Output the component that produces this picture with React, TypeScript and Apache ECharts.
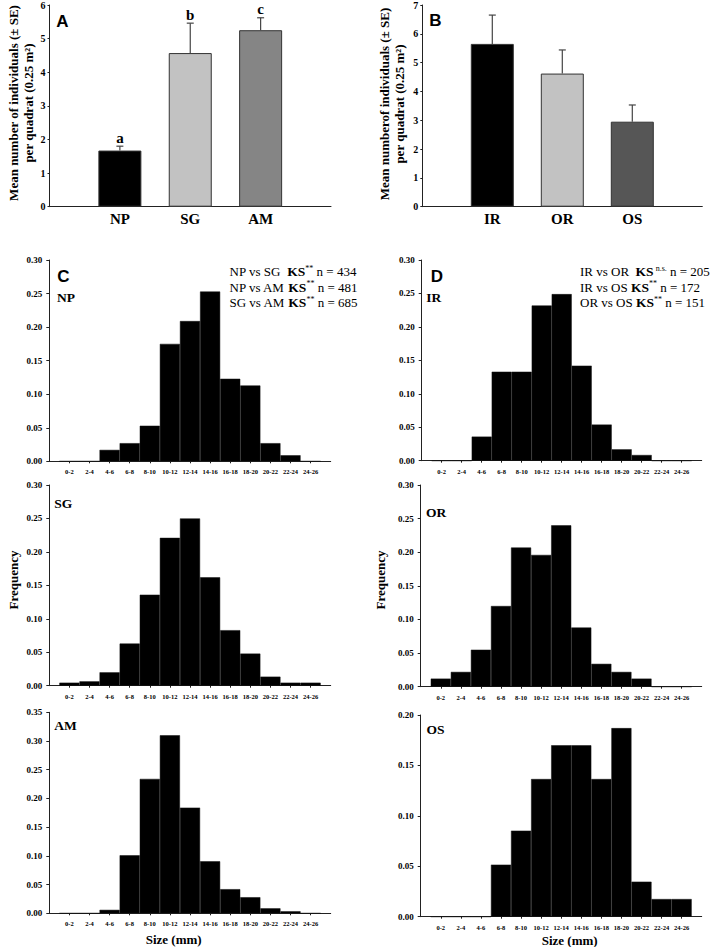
import React, { useEffect, useRef } from "react";
import * as echarts from "echarts";

// ---- Data ----
const siteA = ["NP", "SG", "AM"];
const meanA = [1.67, 4.57, 5.25];
const seA = [0.13, 0.89, 0.37];
const lettersA = ["a", "b", "c"];
const colorsA = ["#000000", "#c2c2c2", "#858585"];

const siteB = ["IR", "OR", "OS"];
const meanB = [5.65, 4.62, 2.95];
const seB = [1.0, 0.82, 0.58];
const colorsB = ["#000000", "#c2c2c2", "#565656"];

const sizeBins = ["0-2", "2-4", "4-6", "6-8", "8-10", "10-12", "12-14", "14-16", "16-18", "18-20", "20-22", "22-24", "24-26"];
const npFreq = [0, 0, 0.017, 0.027, 0.053, 0.175, 0.209, 0.253, 0.123, 0.113, 0.027, 0.009, 0];
const irFreq = [0, 0, 0.036, 0.133, 0.133, 0.232, 0.249, 0.142, 0.054, 0.017, 0.0085, 0, 0];
const sgFreq = [0.0045, 0.0065, 0.02, 0.063, 0.136, 0.221, 0.25, 0.162, 0.083, 0.048, 0.0135, 0.0045, 0.0045];
const orFreq = [0.012, 0.022, 0.055, 0.12, 0.207, 0.196, 0.24, 0.088, 0.034, 0.022, 0.012, 0, 0];
const amFreq = [0, 0, 0.006, 0.101, 0.234, 0.31, 0.184, 0.0905, 0.042, 0.028, 0.0087, 0.0035, 0];
const osFreq = [0, 0, 0, 0.0516, 0.0853, 0.1365, 0.17, 0.17, 0.1365, 0.187, 0.0347, 0.0175, 0.0175];

const SERIF = "Liberation Serif";
const SANS = "Liberation Sans";
const AXIS_COLOR = "#222";

function buildOption() {
  const grids = [
    { left: 49.5, top: 4.7, width: 281.5, height: 202 }, // A
    { left: 422.3, top: 4.7, width: 280, height: 202 }, // B
    { left: 49.3, top: 260, width: 281.4, height: 201.3 }, // C NP
    { left: 421.7, top: 260, width: 280, height: 200.7 }, // D IR
    { left: 49.3, top: 485, width: 281.4, height: 200.7 }, // SG
    { left: 420.7, top: 485, width: 281, height: 201.7 }, // OR
    { left: 49.3, top: 712.3, width: 281.4, height: 201 }, // AM
    { left: 420.7, top: 715, width: 281, height: 201.7 }, // OS
  ];

  const xAxes: any[] = [];
  const yAxes: any[] = [];
  const series: any[] = [];

  // Bar panels A & B
  const barPanels = [
    { sites: siteA, mean: meanA, se: seA, colors: colorsA, max: 6, letters: lettersA },
    { sites: siteB, mean: meanB, se: seB, colors: colorsB, max: 7, letters: null as string[] | null },
  ];
  barPanels.forEach((p, gi) => {
    xAxes.push({
      type: "category",
      gridIndex: gi,
      data: ["", ...p.sites, ""],
      boundaryGap: false,
      axisLine: { show: true, lineStyle: { color: AXIS_COLOR, width: 1 } },
      axisTick: { show: false },
      axisLabel: {
        interval: 0,
        fontFamily: SERIF,
        fontWeight: "bold",
        fontSize: 15,
        color: "#000",
        margin: 5,
      },
      splitLine: { show: false },
    });
    yAxes.push({
      type: "value",
      gridIndex: gi,
      min: 0,
      max: p.max,
      interval: 1,
      axisLine: { show: true, lineStyle: { color: AXIS_COLOR, width: 1 } },
      axisTick: { show: true, length: 2, lineStyle: { color: AXIS_COLOR } },
      axisLabel: { fontFamily: SERIF, fontWeight: "bold", fontSize: 10, color: "#000", margin: 4 },
      splitLine: { show: false },
    });
    series.push({
      type: "bar",
      xAxisIndex: gi,
      yAxisIndex: gi,
      barWidth: 43,
      itemStyle: { borderColor: "#333", borderWidth: 1 },
      data: ["-", ...p.mean.map((v, i) => ({ value: v, itemStyle: { color: p.colors[i] } })), "-"],
    });
    const letters = p.letters;
    series.push({
      type: "custom",
      xAxisIndex: gi,
      yAxisIndex: gi,
      z: 5,
      data: p.mean.map((m, i) => [i + 1, m, p.se[i]]),
      renderItem: (params: any, api: any) => {
        const idx = api.value(0);
        const m = api.value(1);
        const se = api.value(2);
        const p0 = api.coord([idx, m]);
        const p1 = api.coord([idx, m + se]);
        const children: any[] = [
          {
            type: "line",
            shape: { x1: p0[0], y1: p0[1], x2: p1[0], y2: p1[1] },
            style: { stroke: "#444", lineWidth: 1.2 },
          },
          {
            type: "line",
            shape: { x1: p1[0] - 3.5, y1: p1[1], x2: p1[0] + 3.5, y2: p1[1] },
            style: { stroke: "#444", lineWidth: 1.2 },
          },
        ];
        if (letters) {
          children.push({
            type: "text",
            x: p1[0],
            y: p1[1] - 1,
            style: {
              text: letters[params.dataIndex],
              align: "center",
              verticalAlign: "bottom",
              textAlign: "center",
              textVerticalAlign: "bottom",
              font: `bold 15px "${SERIF}"`,
              fill: "#000",
            },
          });
        }
        return { type: "group", children };
      },
    });
  });

  // Histogram panels
  const hists = [
    { data: npFreq, max: 0.3 },
    { data: irFreq, max: 0.3 },
    { data: sgFreq, max: 0.3 },
    { data: orFreq, max: 0.3 },
    { data: amFreq, max: 0.35 },
    { data: osFreq, max: 0.2 },
  ];
  hists.forEach((h, k) => {
    const gi = k + 2;
    xAxes.push({
      type: "category",
      gridIndex: gi,
      data: ["", ...sizeBins, ""],
      boundaryGap: false,
      axisLine: { show: true, lineStyle: { color: AXIS_COLOR, width: 1 } },
      axisTick: {
        show: true,
        length: 2,
        interval: (_i: number, v: string) => v !== "",
        lineStyle: { color: AXIS_COLOR },
      },
      axisLabel: {
        interval: 0,
        fontFamily: SERIF,
        fontWeight: "bold",
        fontSize: 6.5,
        color: "#000",
        margin: 7,
      },
      splitLine: { show: false },
    });
    yAxes.push({
      type: "value",
      gridIndex: gi,
      min: 0,
      max: h.max,
      interval: 0.05,
      axisLine: { show: true, lineStyle: { color: AXIS_COLOR, width: 1 } },
      axisTick: { show: true, length: 3, lineStyle: { color: AXIS_COLOR } },
      axisLabel: {
        fontFamily: SERIF,
        fontWeight: "bold",
        fontSize: 9,
        color: "#000",
        margin: 7,
        formatter: (v: number) => v.toFixed(2),
      },
      splitLine: { show: false },
    });
    series.push({
      type: "bar",
      xAxisIndex: gi,
      yAxisIndex: gi,
      barWidth: "100%",
      itemStyle: { color: "#000", borderColor: "#111", borderWidth: 0.5 },
      data: ["-", ...h.data, "-"],
    });
  });

  const txt = (text: string, x: number, y: number, font: string, extra: any = {}) => ({
    type: "text",
    x,
    y,
    ...extra,
    style: {
      text,
      font,
      fill: "#000",
      align: "center",
      verticalAlign: "middle",
      textAlign: "center",
      textVerticalAlign: "middle",
      ...(extra.style || {}),
    },
  });

  const rich = {
    r: { fontFamily: SERIF, fontSize: 13, lineHeight: 15.5, fill: "#000", color: "#000" },
    b: { fontFamily: SERIF, fontSize: 13.5, fontWeight: "bold", lineHeight: 15.5, fill: "#000", color: "#000" },
    s: { fontFamily: SERIF, fontSize: 8, verticalAlign: "top", fill: "#000", color: "#000" },
  };

  const ksC =
    "{r|NP vs SG  }{b|KS}{s|**}{r| n = 434}\n" +
    "{r|NP vs AM }{b|KS}{s|**}{r| n = 481}\n" +
    "{r|SG vs AM }{b|KS}{s|**}{r| n = 685}";
  const ksD =
    "{r|IR vs OR  }{b|KS}{s| n.s.}{r| n = 205}\n" +
    "{r|IR vs OS }{b|KS}{s|**}{r| n = 172}\n" +
    "{r|OR vs OS }{b|KS}{s|**}{r| n = 151}";

  const boldSerif = (s: number) => `bold ${s}px "${SERIF}"`;
  const boldSans = (s: number) => `bold ${s}px "${SANS}"`;

  const graphic: any[] = [
    // Y titles A & B
    {
      type: "text",
      x: 20.5,
      y: 103,
      rotation: Math.PI / 2,
      style: {
        text: "Mean number of individuals (± SE)\nper quadrat (0.25 m²)",
        font: boldSerif(13),
        lineHeight: 15,
        fill: "#000",
        align: "center",
        verticalAlign: "middle",
        textAlign: "center",
        textVerticalAlign: "middle",
      },
    },
    {
      type: "text",
      x: 391.5,
      y: 104,
      rotation: Math.PI / 2,
      style: {
        text: "Mean numberof individuals (± SE)\nper quadrat (0.25 m²)",
        font: boldSerif(13),
        lineHeight: 15,
        fill: "#000",
        align: "center",
        verticalAlign: "middle",
        textAlign: "center",
        textVerticalAlign: "middle",
      },
    },
    // Panel letters
    txt("A", 62.5, 21, boldSans(17)),
    txt("B", 435.5, 20.5, boldSans(17)),
    txt("C", 63.5, 276.5, boldSans(17)),
    txt("D", 437, 276.5, boldSans(17)),
    // Group labels
    txt("NP", 66, 297.5, boldSerif(13.5)),
    txt("IR", 433.7, 297.5, boldSerif(13.5)),
    txt("SG", 63.3, 503.5, boldSerif(13.5)),
    txt("OR", 436, 512, boldSerif(13.5)),
    txt("AM", 65.5, 725.5, boldSerif(13.5)),
    txt("OS", 435.5, 729.5, boldSerif(13.5)),
    // Frequency
    { ...txt("Frequency", 13, 580, boldSerif(13)), rotation: Math.PI / 2 },
    { ...txt("Frequency", 380, 580, boldSerif(13)), rotation: Math.PI / 2 },
    // Size
    txt("Size (mm)", 173.7, 939, boldSerif(13)),
    txt("Size (mm)", 569.7, 940, boldSerif(13)),
    // KS text
    {
      type: "text",
      x: 229.5,
      y: 264,
      style: { text: ksC, rich, align: "left", verticalAlign: "top", textAlign: "left", textVerticalAlign: "top", fill: "#000", font: `13px "${SERIF}"` },
    },
    {
      type: "text",
      x: 580,
      y: 264,
      style: { text: ksD, rich, align: "left", verticalAlign: "top", textAlign: "left", textVerticalAlign: "top", fill: "#000", font: `13px "${SERIF}"` },
    },
  ];

  return {
    animation: false,
    backgroundColor: "#ffffff",
    grid: grids,
    xAxis: xAxes,
    yAxis: yAxes,
    series,
    graphic,
  };
}

export default function App() {
  const ref = useRef<HTMLDivElement | null>(null);
  useEffect(() => {
    if (!ref.current) return;
    const chart = echarts.init(ref.current, null, { renderer: "svg" });
    chart.setOption(buildOption() as any);
    return () => chart.dispose();
  }, []);
  return (
    <div
      ref={ref}
      style={{ position: "absolute", left: 0, top: 0, width: 710, height: 947, background: "#fff" }}
    />
  );
}
